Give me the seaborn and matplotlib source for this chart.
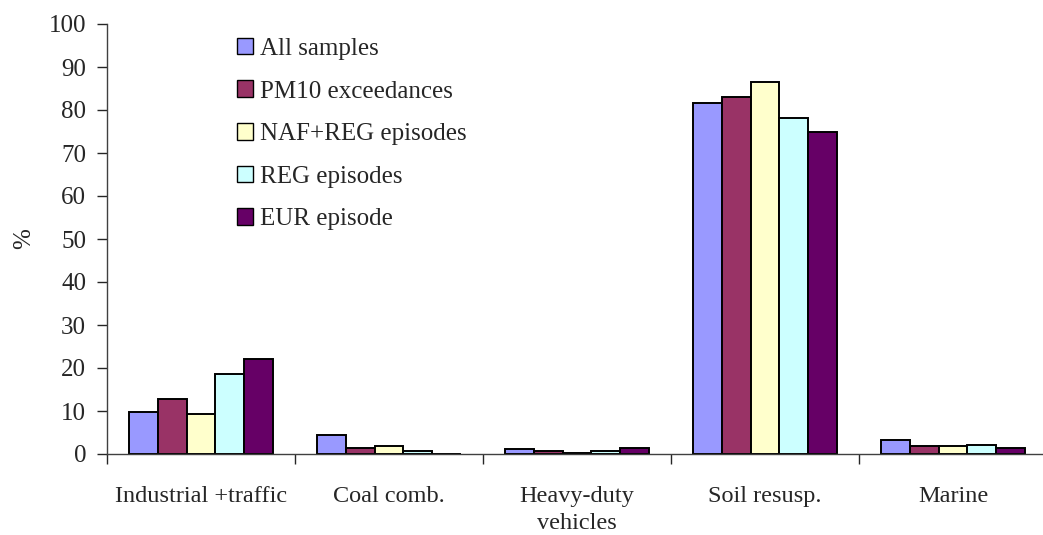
import numpy as np
import pandas as pd
import matplotlib
matplotlib.use("Agg")
import matplotlib.pyplot as plt
import seaborn as sns

categories = ["Industrial +traffic", "Coal comb.", "Heavy-duty\nvehicles", "Soil resusp.", "Marine"]
series = ["All samples", "PM10 exceedances", "NAF+REG episodes", "REG episodes", "EUR episode"]
all_samples = [9.8, 4.4, 1.2, 81.7, 3.3]
pm10_exc = [12.8, 1.5, 0.8, 83.1, 1.8]
naf_reg = [9.4, 1.9, 0.3, 86.5, 1.8]
reg_ep = [18.5, 0.8, 0.7, 78.2, 2.2]
eur_ep = [22.2, 0.0, 1.5, 75.0, 1.5]
colors = ["#9999FF", "#993366", "#FFFFCC", "#CCFFFF", "#660066"]
yticks = list(range(0, 101, 10))

rows = []
for s, vals in zip(series, [all_samples, pm10_exc, naf_reg, reg_ep, eur_ep]):
    for c, v in zip(categories, vals):
        rows.append({"cat": c, "series": s, "val": v})
df = pd.DataFrame(rows)

sns.set_style("white")
plt.rcParams["font.family"] = ["Liberation Serif", "DejaVu Serif"]

fig = plt.figure(figsize=(10.43, 5.35), dpi=100)
ax = fig.add_axes([107 / 1043, 81 / 535, (1047 - 107) / 1043, (454 - 24) / 535])
sns.barplot(data=df, x="cat", y="val", hue="series", order=categories, hue_order=series,
            palette=colors, width=0.77, gap=0, edgecolor="black", linewidth=1.4,
            saturation=1, ax=ax, errorbar=None)

ax.set_xlim(-0.5, 4.5)
ax.set_ylim(0, 100)
ax.set_yticks(yticks)
ax.tick_params(axis="y", which="major", direction="out", length=7, width=1, labelsize=18, pad=8, left=True)
ax.set_xticks(range(len(categories)))
ax.set_xticklabels(categories, linespacing=1.35)
ax.tick_params(axis="x", which="major", length=0, labelsize=17.5, pad=23)
ax.set_xticks(np.arange(-0.5, 5.0, 1.0), minor=True)
ax.tick_params(axis="x", which="minor", direction="out", length=7, width=1, bottom=True)
ax.set_xlabel("")
ax.set_ylabel("%", fontsize=18)
ax.yaxis.set_label_coords(-0.076, 0.5)
for sp in ["top", "right"]:
    ax.spines[sp].set_visible(False)
for sp in ["left", "bottom"]:
    ax.spines[sp].set_color("#404040")
    ax.spines[sp].set_linewidth(1)

leg = ax.legend(loc="upper left", bbox_to_anchor=(0.114, 1.02), frameon=False, fontsize=18,
                handlelength=0.64, handleheight=0.64, labelspacing=0.82, handletextpad=0.3)
for h in leg.legend_handles:
    h.set_edgecolor("black")
    h.set_linewidth(1)

fig.savefig("out.png", dpi=100)
